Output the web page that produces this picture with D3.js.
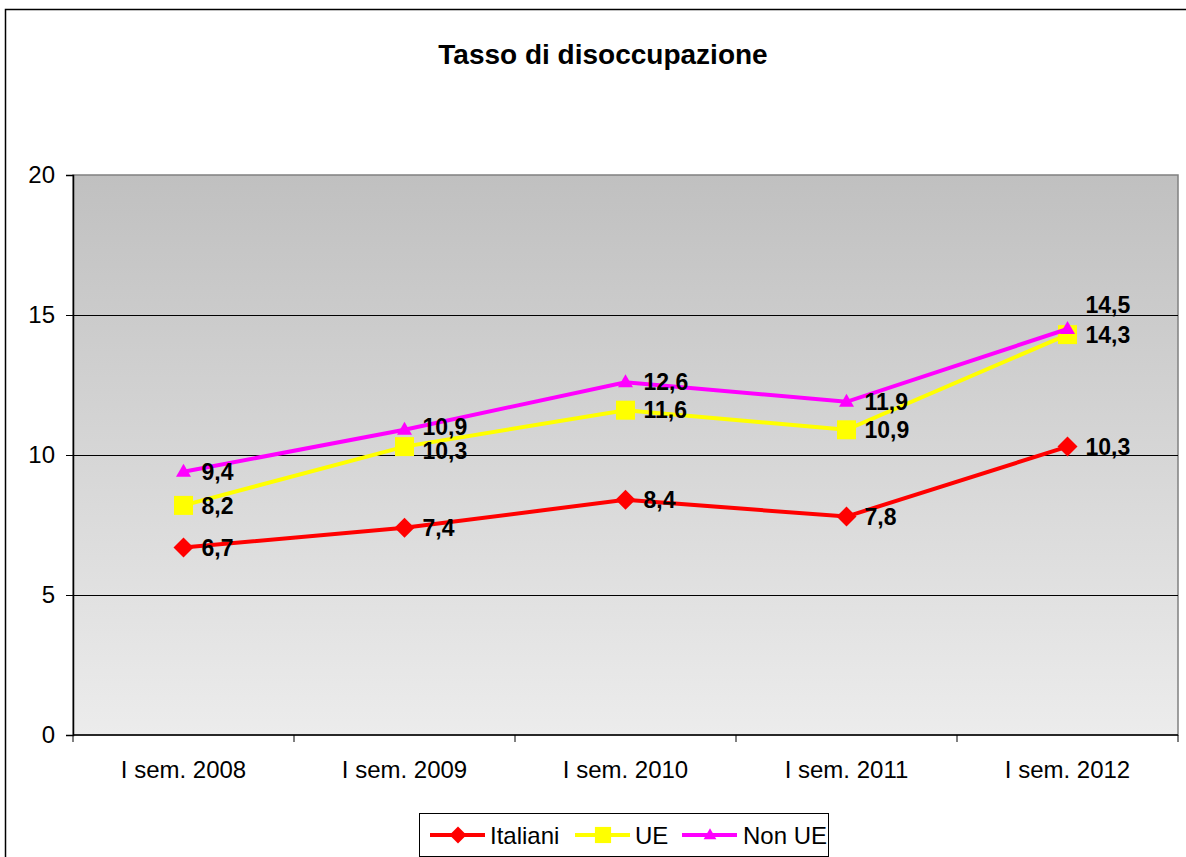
<!DOCTYPE html>
<html>
<head>
<meta charset="utf-8">
<script src="https://cdn.jsdelivr.net/npm/d3@7"></script>
<style>
  body { margin: 0; background: #fff; }
  svg { display: block; font-family: Arial, "Liberation Sans", sans-serif; }
</style>
</head>
<body>
<svg width="1186" height="857"></svg>
<script>
const categories = ["I sem. 2008", "I sem. 2009", "I sem. 2010", "I sem. 2011", "I sem. 2012"];
const italiani = [6.7, 7.4, 8.4, 7.8, 10.3];
const ue = [8.2, 10.3, 11.6, 10.9, 14.3];
const nonUe = [9.4, 10.9, 12.6, 11.9, 14.5];
const yTicks = [0, 5, 10, 15, 20];

const series = [
  { name: "Italiani", values: italiani, color: "#ff0000", shape: "diamond" },
  { name: "UE", values: ue, color: "#ffff00", shape: "square" },
  { name: "Non UE", values: nonUe, color: "#ff00ff", shape: "triangle" },
];

const svg = d3.select("svg");
const plot = { left: 73, right: 1178, top: 175, bottom: 735 };

// outer chart border (right and bottom run off the picture)
svg.append("path")
  .attr("d", "M5.5,857 V9.5 H1186")
  .attr("fill", "none")
  .attr("stroke", "#000")
  .attr("stroke-width", 1.5);

svg.append("text")
  .attr("x", 603).attr("y", 64)
  .attr("text-anchor", "middle")
  .attr("font-size", 28).attr("font-weight", "bold")
  .text("Tasso di disoccupazione");

const x = d3.scaleBand().domain(categories).range([plot.left, plot.right]);
const y = d3.scaleLinear().domain([0, 20]).range([plot.bottom, plot.top]);

const defs = svg.append("defs");
const grad = defs.append("linearGradient")
  .attr("id", "bg").attr("x1", 0).attr("y1", 0).attr("x2", 0).attr("y2", 1);
grad.append("stop").attr("offset", "0%").attr("stop-color", "#c0c0c0");
grad.append("stop").attr("offset", "100%").attr("stop-color", "#ececec");

svg.append("rect")
  .attr("x", plot.left).attr("y", plot.top)
  .attr("width", plot.right - plot.left).attr("height", plot.bottom - plot.top)
  .attr("fill", "url(#bg)")
  .attr("stroke", "#808080").attr("stroke-width", 1.5);

// gridlines
svg.append("g")
  .selectAll("line")
  .data(yTicks.filter((t) => t > 0 && t < 20))
  .enter()
  .append("line")
  .attr("x1", plot.left).attr("x2", plot.right)
  .attr("y1", (d) => Math.round(y(d)) + 0.5).attr("y2", (d) => Math.round(y(d)) + 0.5)
  .attr("stroke", "#000").attr("stroke-width", 1);

// y axis
const yAxis = svg.append("g")
  .attr("transform", `translate(${plot.left},0)`)
  .call(d3.axisLeft(y).tickValues(yTicks).tickSize(7).tickPadding(11).tickFormat(d3.format("d")));
yAxis.select(".domain").attr("stroke", "#000").attr("stroke-width", 1.5);
yAxis.selectAll(".tick line").attr("stroke", "#000");
yAxis.selectAll("text").attr("font-size", 24).attr("fill", "#000").attr("font-family", "Arial, 'Liberation Sans', sans-serif");

// x axis with ticks at category boundaries
const xAxis = svg.append("g").attr("transform", `translate(0,${plot.bottom})`);
xAxis.append("line")
  .attr("x1", plot.left).attr("x2", plot.right)
  .attr("stroke", "#000").attr("stroke-width", 1.5);
xAxis.selectAll("line.tk")
  .data(categories.concat([null]))
  .enter()
  .append("line")
  .attr("class", "tk")
  .attr("x1", (d, i) => plot.left + i * x.step()).attr("x2", (d, i) => plot.left + i * x.step())
  .attr("y1", 0).attr("y2", 7)
  .attr("stroke", "#000");
xAxis.selectAll("text")
  .data(categories)
  .enter()
  .append("text")
  .attr("x", (d) => x(d) + x.bandwidth() / 2)
  .attr("y", 43)
  .attr("text-anchor", "middle")
  .attr("font-size", 24)
  .text((d) => d);

function markerPath(shape, k = 1) {
  if (shape === "diamond") return `M0,${-10 * k} L${10 * k},0 L0,${10 * k} L${-10 * k},0 Z`;
  if (shape === "square") return `M${-9.5 * k},${-9.5 * k} H${9.5 * k} V${9.5 * k} H${-9.5 * k} Z`;
  return `M0,${-8 * k} L${7.5 * k},${5 * k} L${-7.5 * k},${5 * k} Z`;
}

const cx = (i) => x(categories[i]) + x.bandwidth() / 2;
const line = d3.line().x((d, i) => cx(i)).y((d) => y(d));

series.forEach((s) => {
  const g = svg.append("g");
  g.append("path")
    .datum(s.values)
    .attr("d", line)
    .attr("fill", "none")
    .attr("stroke", s.color)
    .attr("stroke-width", 4);
  g.selectAll("path.m")
    .data(s.values)
    .enter()
    .append("path")
    .attr("class", "m")
    .attr("transform", (d, i) => `translate(${cx(i)},${y(d)})`)
    .attr("d", markerPath(s.shape))
    .attr("fill", s.color);
});

// data labels (small nudges where labels collide)
const fmt = (v) => String(v.toFixed(1)).replace(".", ",");
function labelY(name, i, v) {
  if (name === "Non UE" && i === 4) return y(v) - 24;
  if (name === "Non UE" && i === 1) return y(v) - 3;
  if (name === "UE" && i === 1) return y(v) + 4;
  return y(v);
}
series.forEach((s) => {
  svg.append("g")
    .selectAll("text")
    .data(s.values)
    .enter()
    .append("text")
    .attr("x", (d, i) => cx(i) + 18)
    .attr("y", (d, i) => labelY(s.name, i, d))
    .attr("dy", "0.36em")
    .attr("font-size", 23)
    .attr("font-weight", "bold")
    .attr("fill", "#000")
    .text((d) => fmt(d));
});

// legend
const legend = svg.append("g");
legend.append("rect")
  .attr("x", 419.5).attr("y", 813.5)
  .attr("width", 409).attr("height", 43)
  .attr("fill", "#fff").attr("stroke", "#000").attr("stroke-width", 1);
const legendX = [430, 575, 682];
const legendTextX = [490, 635, 743];
series.forEach((s, i) => {
  const ly = 835;
  legend.append("line")
    .attr("x1", legendX[i]).attr("x2", legendX[i] + 55)
    .attr("y1", ly).attr("y2", ly)
    .attr("stroke", s.color).attr("stroke-width", 4);
  legend.append("path")
    .attr("transform", `translate(${legendX[i] + 28},${ly})`)
    .attr("d", markerPath(s.shape, 0.85))
    .attr("fill", s.color);
  legend.append("text")
    .attr("x", legendTextX[i]).attr("y", ly)
    .attr("dy", "0.36em")
    .attr("font-size", 24)
    .text(s.name);
});
</script>
</body>
</html>
